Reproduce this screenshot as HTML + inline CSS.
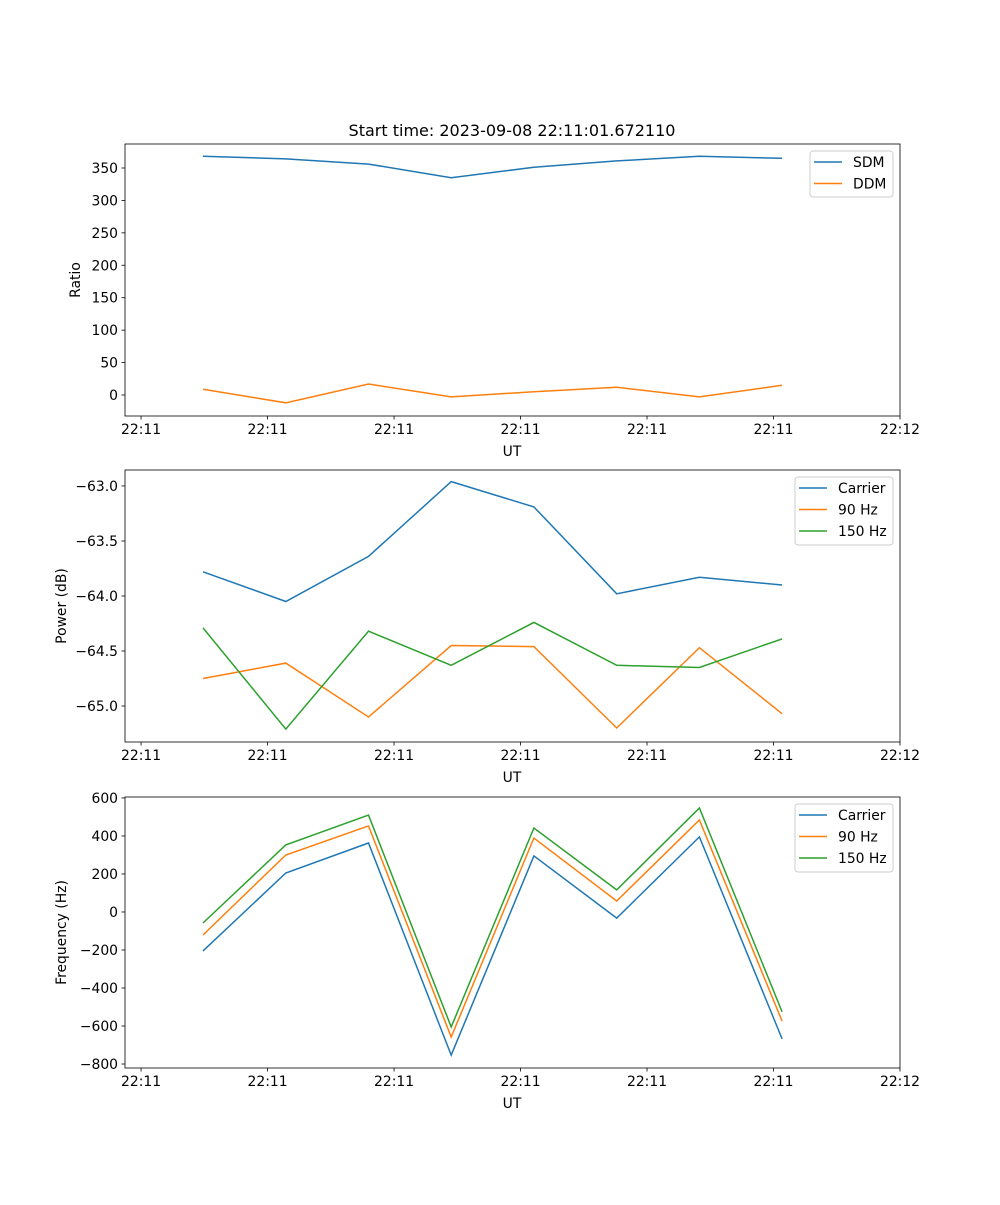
<!DOCTYPE html>
<html><head><meta charset="utf-8"><style>
body{margin:0;background:#fff;}
svg text{font-family:"DejaVu Sans","Liberation Sans",sans-serif;font-size:13.9px;fill:#000;}
svg text.title{font-size:16px;}
</style></head>
<body>
<svg id="fig" width="1000" height="1200" xmlns="http://www.w3.org/2000/svg">
<rect width="1000" height="1200" fill="#fff"/>
<text class="title" x="512" y="136" text-anchor="middle">Start time: 2023-09-08 22:11:01.672110</text>
</svg>
<script>
const times = [4.9, 11.44, 17.98, 24.52, 31.06, 37.6, 44.14, 50.68];
const xTickVals = [0, 10, 20, 30, 40, 50, 60];
const xTickLabels = ["22:11","22:11","22:11","22:11","22:11","22:11","22:12"];
const sdm = [368, 364, 356, 335, 351, 361, 368, 365];
const ddm = [9, -12, 17, -3, 5, 12, -3, 15];
const pwrCarrier = [-63.78, -64.05, -63.64, -62.96, -63.19, -63.98, -63.83, -63.90];
const pwr90 = [-64.75, -64.61, -65.10, -64.45, -64.46, -65.20, -64.47, -65.07];
const pwr150 = [-64.29, -65.21, -64.32, -64.63, -64.24, -64.63, -64.65, -64.39];
const frqCarrier = [-205, 205, 363, -753, 295, -32, 395, -668];
const frq90 = [-121, 300, 453, -658, 389, 58, 484, -574];
const frq150 = [-58, 353, 510, -605, 442, 116, 547, -526];
const yTicks1 = [0, 50, 100, 150, 200, 250, 300, 350];
const yTicks2 = [-65.0, -64.5, -64.0, -63.5, -63.0];
const yTicks3 = [-800, -600, -400, -200, 0, 200, 400, 600];

const NS = "http://www.w3.org/2000/svg";
const svg = document.getElementById('fig');
const colors = ["#1f77b4", "#ff7f0e", "#2ca02c"];
const L = 125, R = 900, X0 = -1.27, X1 = 60;
function sx(v){ return L + (v - X0) / (X1 - X0) * (R - L); }
function mk(tag, attrs, parent){ const e = document.createElementNS(NS, tag); for (const k in attrs) e.setAttribute(k, attrs[k]); (parent||svg).appendChild(e); return e; }
function fmt(v, dec){ const s = v.toFixed(dec); return v < 0 ? "\u2212" + s.slice(1) : s; }

function panel(idx, top, bot, y0, y1, ticks, dec, ylabel, series, names, legW){
  const g = mk('g', {});
  
  
  const sy = v => bot - (v - y0) / (y1 - y0) * (bot - top);
  series.forEach((s, i) => {
    const p = mk('polyline', {points: s.map((v, j) => sx(times[j]).toFixed(1) + ',' + sy(v).toFixed(1)).join(' '), fill: 'none', stroke: colors[i], 'stroke-width': 1.5}, g);
    
    
  });
  const fr = mk('rect', {x: L, y: top, width: R - L, height: bot - top, fill: 'none', stroke: '#000', 'stroke-width': 0.8}, g);
  
  
  xTickVals.forEach((v, i) => {
    const x = sx(v);
    mk('line', {x1: x, x2: x, y1: bot, y2: bot + 3.5, stroke: '#000', 'stroke-width': 0.8}, g);
    const t = mk('text', {x: x, y: bot + 18, 'text-anchor': 'middle'}, g);
    
    
    t.textContent = xTickLabels[i];
  });
  ticks.forEach(v => {
    const y = sy(v);
    mk('line', {x1: L - 3.5, x2: L, y1: y, y2: y, stroke: '#000', 'stroke-width': 0.8}, g);
    const t = mk('text', {x: L - 7, y: y + 5, 'text-anchor': 'end'}, g);
    
    
    t.textContent = fmt(v, dec);
  });
  const xl = mk('text', {x: 512, y: bot + 40, 'text-anchor': 'middle'}, g);
  
  
  xl.textContent = 'UT';
  const lx = idx === 1 ? 80 : 66;
  const yl = mk('text', {x: lx, y: (top + bot) / 2, 'text-anchor': 'middle', transform: 'rotate(-90 ' + lx + ' ' + (top + bot) / 2 + ')'}, g);
  
  
  yl.textContent = ylabel;
  const lg = mk('g', {}, g);
  
  
  const bx = 893 - legW, by = top + 7;
  mk('rect', {x: bx, y: by, width: legW, height: 2 + names.length * 22, rx: 3, fill: '#fff', 'fill-opacity': 0.8, stroke: '#ccc', 'stroke-width': 1}, lg);
  names.forEach((n, i) => {
    const y = by + 11 + i * 21.5;
    mk('line', {x1: bx + 4, x2: bx + 32, y1: y, y2: y, stroke: colors[i], 'stroke-width': 1.5}, lg);
    const t = mk('text', {x: bx + 43, y: y + 5}, lg);
    
    
    t.textContent = n;
  });
}
panel(1, 144, 416, -32.4, 387, yTicks1, 0, 'Ratio', [sdm, ddm], ['SDM', 'DDM'], 83);
panel(2, 470, 742, -65.327, -62.855, yTicks2, 1, 'Power (dB)', [pwrCarrier, pwr90, pwr150], ['Carrier', '90 Hz', '150 Hz'], 98);
panel(3, 797, 1068, -821, 605, yTicks3, 0, 'Frequency (Hz)', [frqCarrier, frq90, frq150], ['Carrier', '90 Hz', '150 Hz'], 98);
</script>
</body></html>
